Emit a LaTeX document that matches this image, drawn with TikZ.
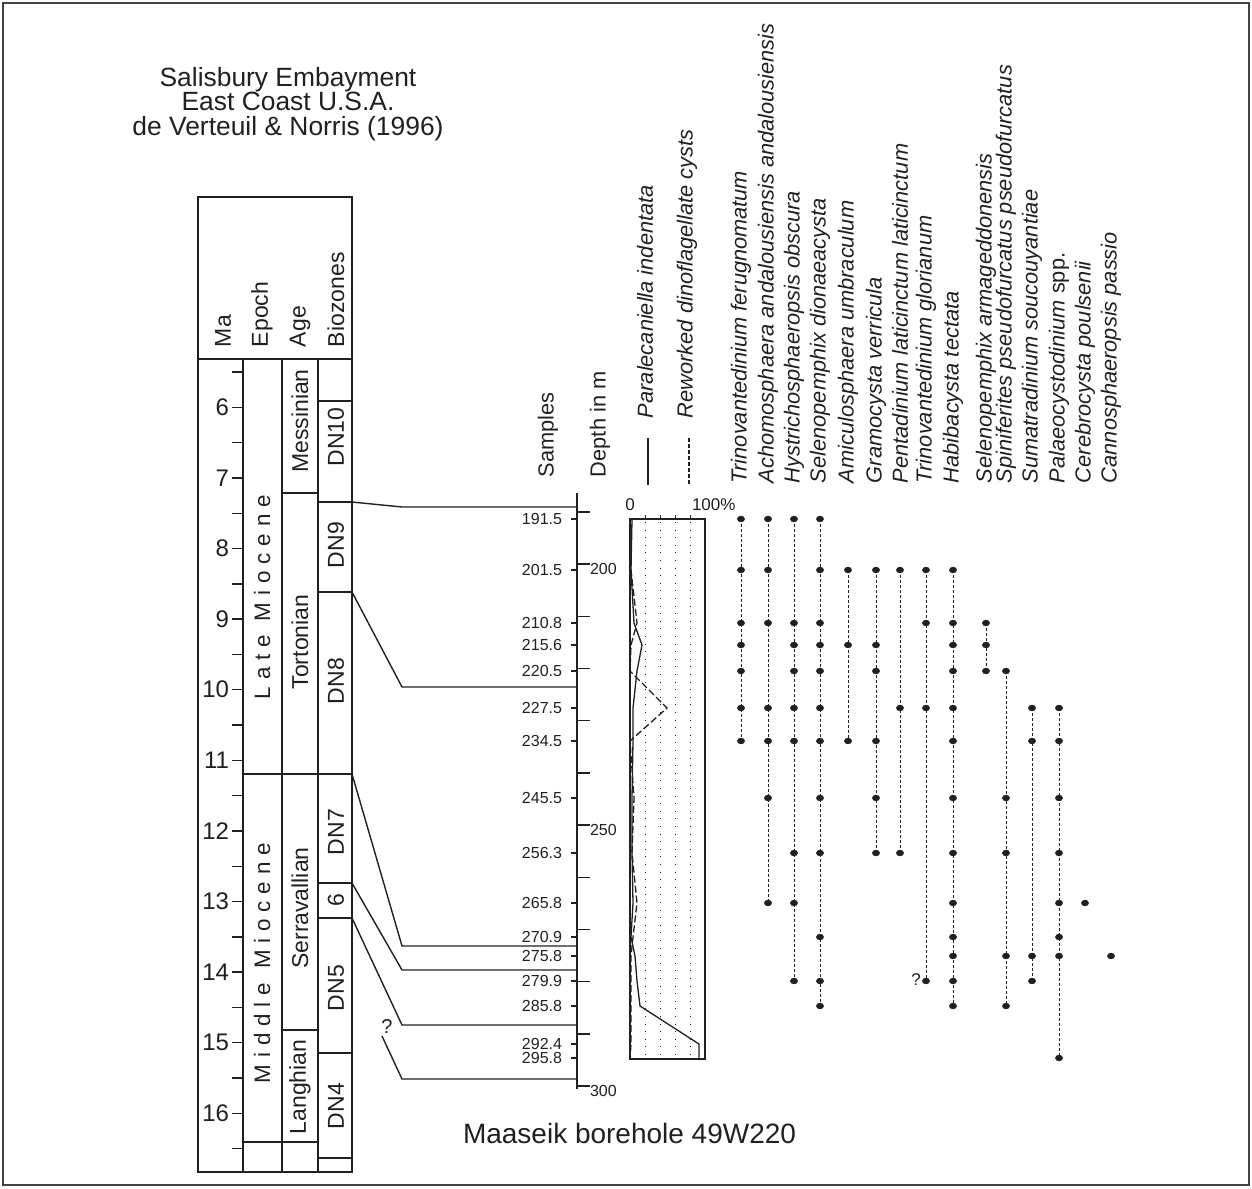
\documentclass[tikz,border=0pt]{standalone}
\usepackage{fontspec}
\setmainfont{Liberation Sans}
\usetikzlibrary{shapes.geometric}
\definecolor{ink}{RGB}{35,31,32}
\def\Ya{519}\def\Yb{570}\def\Yc{623}\def\Yd{645}\def\Ye{671}\def\Yf{708}\def\Yg{741}\def\Yh{798}
\def\Yi{853}\def\Yj{903}\def\Yk{937}\def\Yl{956}\def\Ym{981}\def\Yn{1006}\def\Yo{1044}\def\Yp{1058}
\newcommand\sy[1]{\csname Y#1\endcsname}
\newcommand\gp{\hspace{3.45pt}}
\newcommand\wgp{\hspace{6.9pt}}
\newcommand\taxon[5]{%
  \draw[rangeline] (#2,\sy{#3}) -- (#2,\sy{#4});
  \foreach \k in {#5} {\node[dot] (#1-\k) at (#2,\sy{\k}) {};}}
\begin{document}
\begin{tikzpicture}[x=0.5pt,y=-0.5pt,
  every node/.style={text=ink, inner sep=0pt, outer sep=0pt},
  frame/.style={draw=ink, line width=0.75pt},
  corr/.style={draw=ink, line width=0.7pt},
  tick/.style={draw=ink, line width=0.7pt},
  dot/.style={ellipse, fill=ink, draw=none, minimum width=3.9pt, minimum height=3.2pt, inner sep=0pt},
  rangeline/.style={draw=ink, line width=0.5pt, dash pattern=on 1.5pt off 1pt},
  gridline/.style={draw=ink, line width=0.5pt, dash pattern=on 0.5pt off 3.3pt},
  collab/.style={rotate=90, anchor=west, font=\fontsize{11.5}{13}\selectfont},
  colin/.style={rotate=90, font=\fontsize{11.5}{13}\selectfont},
  epo/.style={rotate=90, font=\fontsize{11.2}{13}\selectfont},
  spec/.style={rotate=90, anchor=west, font=\fontsize{10.9}{12}\selectfont\itshape},
  rlab/.style={rotate=90, anchor=west, font=\fontsize{10.9}{12}\selectfont},
  small/.style={font=\fontsize{8}{9}\selectfont},
  malab/.style={anchor=east, font=\fontsize{12}{14}\selectfont}
]
\useasboundingbox (0,0) rectangle (1252,1188);
% outer frame
\draw[draw=ink!85, line width=0.6pt] (3,3) rectangle (1249,1185);
% title
\node[align=center, font=\fontsize{13.2}{12.3}\selectfont] (title) at (288,104)
  {Salisbury Embayment\\East Coast U.S.A.\\de Verteuil \& Norris (1996)};
% ---------------- left stratigraphic column
\draw[frame] (198,197) rectangle (352,1172);
\draw[frame] (198,359) -- (352,359);
\draw[frame] (243,359) -- (243,1172);
\draw[frame] (282,359) -- (282,1172);
\draw[frame] (318,359) -- (318,1172);
\draw[frame] (243,774) -- (352,774);
\draw[frame] (243,1142) -- (318,1142);
\draw[frame] (318,1158) -- (352,1158);
\draw[frame] (282,493) -- (318,493);
\draw[frame] (282,1030) -- (318,1030);
\foreach \yy in {401,502,592,883,918,1053} \draw[frame] (318,\yy) -- (352,\yy);
% header
\node[collab] (hMa) at (223,347) {Ma};
\node[collab] (hEp) at (262,347) {Epoch};
\node[collab] (hAge) at (300,347) {Age};
\node[collab] (hBio) at (336,347) {Biozones};
% Ma ticks
\foreach \i in {0,...,22} {\pgfmathsetmacro\yy{372+\i*35.3}\draw[tick] (232,\yy) -- (243,\yy);}
\foreach \m in {6,...,16} {\pgfmathsetmacro\yy{407.3+(\m-6)*70.6}\node[malab] (ma\m) at (229,\yy) {\m};}
% epochs
\node[epo] (late) at (262,597) {L\gp a\gp t\gp e\wgp M\gp i\gp o\gp c\gp e\gp n\gp e};
\node[epo] (mid) at (262,963) {M\gp i\gp d\gp d\gp l\gp e\wgp M\gp i\gp o\gp c\gp e\gp n\gp e};
% ages
\node[colin] (mess) at (300,421) {Messinian};
\node[colin] (tort) at (300,642) {Tortonian};
\node[colin] (serr) at (300,908) {Serravallian};
\node[colin] (lang) at (300,1087) {Langhian};
% biozones
\node[colin] (dn10) at (336,437) {DN10};
\node[colin] (dn9) at (336,545) {DN9};
\node[colin] (dn8) at (336,681) {DN8};
\node[colin] (dn7) at (336,832) {DN7};
\node[colin] (dn6) at (336,900) {6};
\node[colin] (dn5) at (336,988) {DN5};
\node[colin] (dn4) at (336,1106) {DN4};
% correlation lines
\draw[corr] (352,502) -- (402,507) -- (577,507);
\draw[corr] (352,592) -- (402,687) -- (577,687);
\draw[corr] (352,774) -- (402,946) -- (577,946);
\draw[corr] (352,883) -- (402,970) -- (577,970);
\draw[corr] (352,918) -- (402,1025) -- (577,1025);
\node[font=\fontsize{10}{12}\selectfont] (q1) at (387,1027) {?};
\draw[corr] (382,1036) -- (402,1079) -- (577,1079);
% ---------------- depth axis
\node[rlab] (samp) at (548,477) {Samples};
\node[rlab] (depth) at (600,477) {Depth in m};
\draw[frame] (577,493) -- (577,1089);
\foreach \d in {190,200,...,300} {\pgfmathsetmacro\yy{564+(\d-200)*5.22}\draw[tick] (577,\yy) -- (590,\yy);}
\node[small, anchor=west] (d200) at (590,569) {200};
\node[small, anchor=west] (d250) at (590,830) {250};
\node[small, anchor=west] (d300) at (590,1091) {300};
\foreach \lab/\yy [count=\n] in {191.5/519,201.5/570,210.8/623,215.6/645,220.5/671,227.5/708,234.5/741,245.5/798,256.3/853,265.8/903,270.9/937,275.8/956,279.9/981,285.8/1006,292.4/1044,295.8/1058}
  {\draw[tick] (571,\yy) -- (577,\yy);
   \node[small, anchor=east] (s\n) at (562,\yy) {\lab};}
% ---------------- percentage chart
\draw[draw=ink, line width=0.6pt] (630,519) rectangle (705,1059);
\foreach \xx in {645,660,675,690} {\draw[gridline] (\xx,522) -- (\xx,1059); \draw[draw=ink, line width=0.5pt] (\xx,515) -- (\xx,519);}
\node[font=\fontsize{8.5}{10}\selectfont] (p0) at (630,505) {0};
\node[font=\fontsize{8.5}{10}\selectfont, anchor=west] (p100) at (692,505) {100\%};
\draw[draw=ink, line width=0.65pt, line join=round] (632,519) -- (631,570) -- (634,623) -- (642,645) -- (637,671) -- (633,708) -- (633,741) -- (632,798) -- (632,853) -- (633,903) -- (631,937) -- (635,956) -- (637,981) -- (640,1006) -- (699,1044) -- (699,1058);
\draw[draw=ink, line width=0.65pt, dash pattern=on 3.5pt off 1.5pt] (630,519) -- (631,570) -- (637,623) -- (631,645) -- (630,671) -- (667,708) -- (630,741) -- (634,798) -- (632,853) -- (637,903) -- (633,937) -- (631,956) -- (631,981) -- (631,1006) -- (631,1044) -- (630,1058);
% legend
\draw[draw=ink, line width=0.7pt] (648,438) -- (648,485);
\draw[draw=ink, line width=0.7pt, dash pattern=on 2pt off 1pt] (689,438) -- (689,485);
\node[spec] (legP) at (645,418) {Paralecaniella indentata};
\node[rlab] (legR) at (687,418) {\itshape Reworked dinoflagellate cysts};
% ---------------- species labels
\foreach \xx/\nm [count=\n] in {741/{Trinovantedinium ferugnomatum},768/{Achomosphaera andalousiensis andalousiensis},794/{Hystrichosphaeropsis obscura},820/{Selenopemphix dionaeacysta},848/{Amiculosphaera umbraculum},876/{Gramocysta verricula},900/{Pentadinium laticinctum laticinctum},926/{Trinovantedinium glorianum},953/{Habibacysta tectata},986/{Selenopemphix armageddonensis},1006/{Spiniferites pseudofurcatus pseudofurcatus},1032/{Sumatradinium soucouyantiae},1059/{Palaeocystodinium \upshape spp.},1085/{Cerebrocysta poulsenii},1111/{Cannosphaeropsis passio}}
  {\node[spec] (sp\n) at (\xx,483) {\nm};}
% ---------------- occurrences
\taxon{t1}{741}{a}{g}{a,b,c,d,e,f,g}
\taxon{t2}{768}{a}{j}{a,b,c,f,g,h,j}
\taxon{t3}{794}{a}{m}{a,c,d,e,f,g,i,j,m}
\taxon{t4}{820}{a}{n}{a,b,c,d,e,f,g,h,i,k,m,n}
\taxon{t5}{848}{b}{g}{b,d,g}
\taxon{t6}{876}{b}{i}{b,d,e,g,h,i}
\taxon{t7}{900}{b}{i}{b,f,i}
\taxon{t8}{926}{b}{m}{b,c,f,m}
\taxon{t9}{953}{b}{n}{b,c,d,e,f,g,h,i,j,k,l,m,n}
\taxon{t10}{986}{c}{e}{c,d,e}
\taxon{t11}{1006}{e}{n}{e,h,i,l,n}
\taxon{t12}{1032}{f}{m}{f,g,l,m}
\taxon{t13}{1059}{f}{p}{f,g,h,i,j,k,l,p}
\taxon{t14}{1085}{j}{j}{j}
\taxon{t15}{1111}{l}{l}{l}
\node[font=\fontsize{8.5}{10}\selectfont] (q2) at (916,980) {?};
% borehole caption
\node[anchor=west, font=\fontsize{14}{16}\selectfont] (bh) at (463,1133) {Maaseik borehole 49W220};
\end{tikzpicture}
\end{document}
